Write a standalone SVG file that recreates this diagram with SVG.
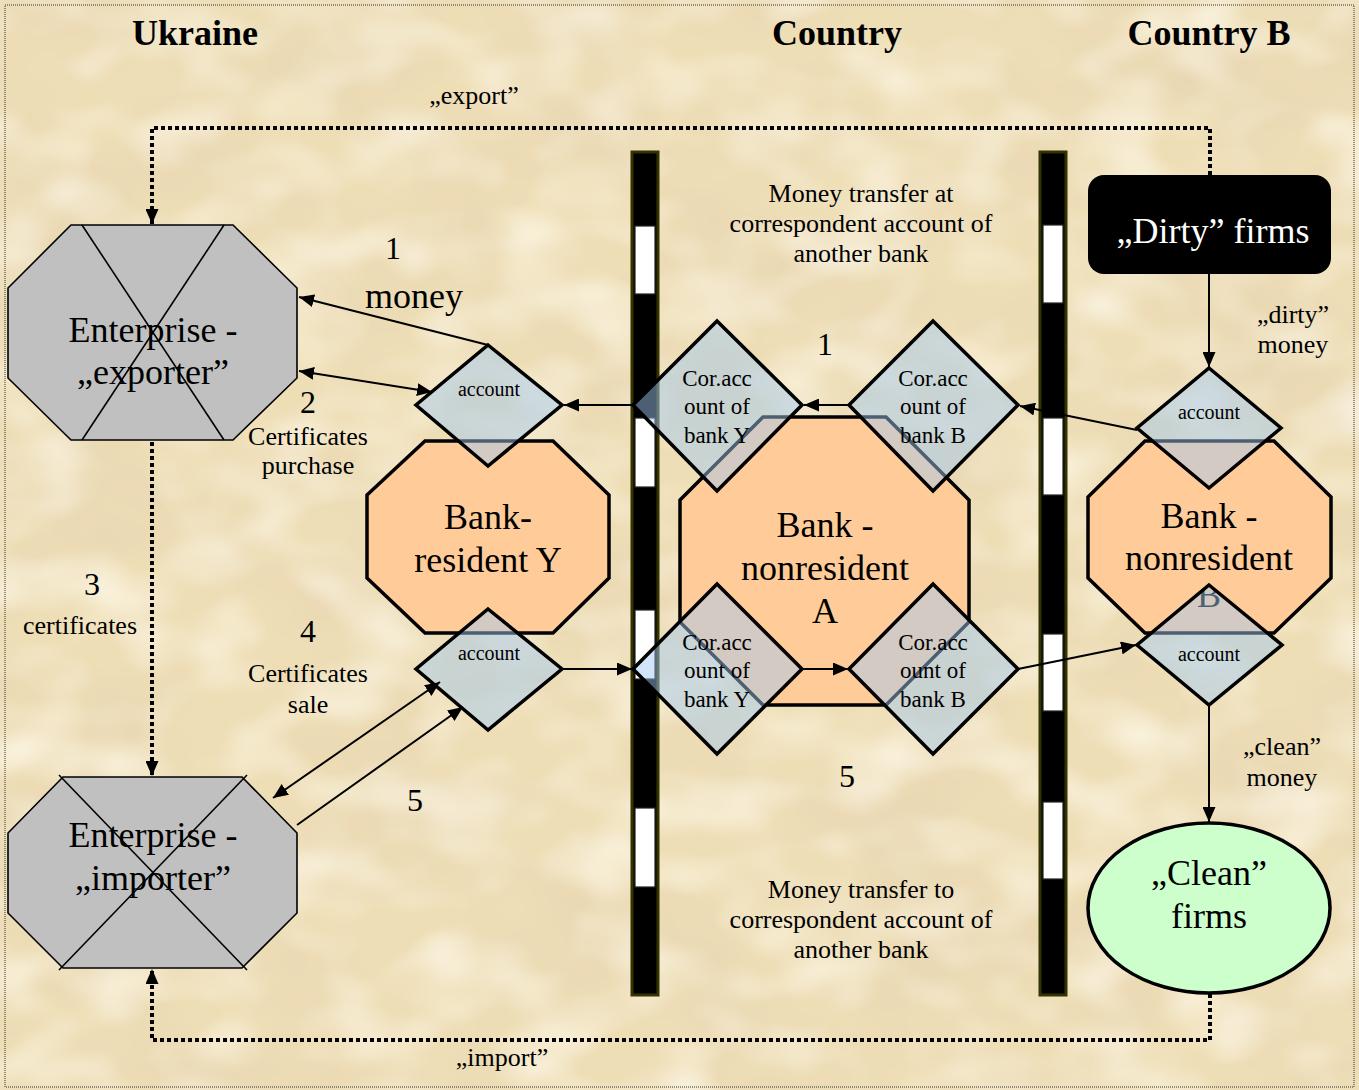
<svg xmlns="http://www.w3.org/2000/svg" width="1359" height="1090" viewBox="0 0 1359 1090">
  <defs>
    <style>
      text { font-family: "Liberation Serif", "Times New Roman", serif; fill: #000; text-anchor: middle; }
      .title { font-size: 36px; font-weight: bold; }
      .big { font-size: 36px; }
      .mid { font-size: 26px; }
      .num { font-size: 32px; }
      .cor { font-size: 23px; }
      .acc { font-size: 20px; }
      .ent { fill: #c0c0c0; stroke: #000; stroke-width: 1.6; }
      .cross { stroke: #000; stroke-width: 1.6; fill: none; }
      .bank { fill: #ffcc99; stroke: #000; stroke-width: 3.5; }
      .dia { fill: rgba(160,200,240,0.48); stroke: #000; stroke-width: 3.5; stroke-linejoin: miter; }
      .flow { stroke: #000; stroke-width: 2; fill: none; }
      .dots { stroke: #000; stroke-width: 4; fill: none; stroke-dasharray: 4 3; }
      .bar { fill: #000; stroke: #333300; stroke-width: 3; }
      .gap { fill: #fff; stroke: #222; stroke-width: 1.2; }
    </style>
    <marker id="arrow" markerUnits="userSpaceOnUse" markerWidth="16" markerHeight="13" refX="15" refY="6.5" orient="auto-start-reverse">
      <path d="M0,0 L15,6.5 L0,13 z" fill="#000"/>
    </marker>
    <!-- mottled parchment: soft dark blotches and pale patches -->
    <filter id="parchment" filterUnits="userSpaceOnUse" x="0" y="0" width="1359" height="1090">
      <feTurbulence type="fractalNoise" baseFrequency="0.006 0.009" numOctaves="3" seed="7" result="n"/>
      <feColorMatrix in="n" type="matrix" values="0 0 0 0 0.80  0 0 0 0 0.67  0 0 0 0 0.45  1.7 0 0 0 -0.68"/>
    </filter>
    <filter id="flecks" filterUnits="userSpaceOnUse" x="0" y="0" width="1359" height="1090">
      <feTurbulence type="fractalNoise" baseFrequency="0.012 0.018" numOctaves="2" seed="21" result="n"/>
      <feColorMatrix in="n" type="matrix" values="0 0 0 0 0.99  0 0 0 0 0.95  0 0 0 0 0.84  0 1.5 0 0 -0.62"/>
    </filter>
    <clipPath id="clipB">
      <polygon points="1209,585 1282,645 1209,705 1137,645"/>
    </clipPath>
  </defs>

  <!-- parchment background -->
  <rect width="1359" height="1090" fill="#eedeb6"/>
  <rect width="1359" height="1090" filter="url(#parchment)"/>
  <rect width="1359" height="1090" filter="url(#flecks)"/>
  <rect x="5" y="5" width="1349" height="1082" fill="none" stroke="#333" stroke-width="1" stroke-dasharray="1 1"/>

  <!-- region titles -->
  <g id="titles">
    <text class="title" x="195" y="45">Ukraine</text>
    <text class="title" x="837" y="45">Country</text>
    <text class="title" x="1209" y="45">Country B</text>
  </g>

  <!-- state borders -->
  <g id="borders">
    <rect class="bar" x="632" y="152" width="26" height="843"/>
    <rect class="gap" x="635" y="226" width="20" height="68"/>
    <rect class="gap" x="635" y="418" width="20" height="69"/>
    <rect class="gap" x="635" y="610" width="20" height="69"/>
    <rect class="gap" x="635" y="808" width="20" height="79"/>
    <rect class="bar" x="1040" y="152" width="26" height="843"/>
    <rect class="gap" x="1043" y="225" width="20" height="78"/>
    <rect class="gap" x="1043" y="418" width="20" height="77"/>
    <rect class="gap" x="1043" y="634" width="20" height="77"/>
    <rect class="gap" x="1043" y="802" width="20" height="77"/>
  </g>

  <!-- goods and document routes (dotted) -->
  <g id="routes">
    <path class="dots" d="M1210,175 V128 H152 V224" marker-end="url(#arrow)"/>
    <path class="dots" d="M152,442 V776" marker-end="url(#arrow)"/>
    <path class="dots" d="M1210,994 V1040 H152 V969" marker-end="url(#arrow)"/>
  </g>

  <!-- Ukrainian enterprises -->
  <g id="exporter">
    <polygon class="ent" points="71,225 233,225 297,288 297,378 233,440 71,440 8,378 8,288"/>
    <line class="cross" x1="82" y1="225" x2="224" y2="440"/>
    <line class="cross" x1="224" y1="225" x2="82" y2="440"/>
    <text class="big" x="153" y="342">Enterprise -</text>
    <text class="big" x="153" y="384">„exporter”</text>
  </g>
  <g id="importer">
    <polygon class="ent" points="63,777 242,777 297,833 297,913 242,968 63,968 8,913 8,833"/>
    <line class="cross" x1="59" y1="775" x2="247" y2="970"/>
    <line class="cross" x1="247" y1="775" x2="59" y2="970"/>
    <text class="big" x="153" y="847">Enterprise -</text>
    <text class="big" x="153" y="890">„importer”</text>
  </g>

  <!-- resident bank Y -->
  <g id="bank-y">
    <polygon class="bank" points="425,441 553,441 609,495 609,578 553,633 425,633 367,578 367,495"/>
    <text class="big" x="488" y="529">Bank-</text>
    <text class="big" x="488" y="572">resident Y</text>
  </g>
  <g id="account-y-top">
    <polygon class="dia" points="488,345 562,405 488,466 416,405"/>
    <text class="acc" x="489" y="396">account</text>
  </g>
  <g id="account-y-bottom">
    <polygon class="dia" points="488,609 562,669 488,730 416,669"/>
    <text class="acc" x="489" y="660">account</text>
  </g>

  <!-- nonresident bank A -->
  <g id="bank-a">
    <polygon class="bank" points="763,417 886,417 969,500 969,622 886,705 763,705 680,622 680,500"/>
    <text class="big" x="825" y="537">Bank -</text>
    <text class="big" x="825" y="580">nonresident</text>
    <text class="big" x="825" y="623">A</text>
  </g>
  <g id="cor-y-top">
    <polygon class="dia" points="717,321 802,405 717,491 633,405"/>
    <text class="cor" x="717" y="386">Cor.acc</text>
    <text class="cor" x="717" y="414">ount of</text>
    <text class="cor" x="717" y="443">bank Y</text>
  </g>
  <g id="cor-b-top">
    <polygon class="dia" points="933,321 1018,405 933,491 849,405"/>
    <text class="cor" x="933" y="386">Cor.acc</text>
    <text class="cor" x="933" y="414">ount of</text>
    <text class="cor" x="933" y="443">bank B</text>
  </g>
  <g id="cor-y-bottom">
    <polygon class="dia" points="717,584 802,669 717,754 633,669"/>
    <text class="cor" x="717" y="650">Cor.acc</text>
    <text class="cor" x="717" y="678">ount of</text>
    <text class="cor" x="717" y="707">bank Y</text>
  </g>
  <g id="cor-b-bottom">
    <polygon class="dia" points="933,584 1018,669 933,754 849,669"/>
    <text class="cor" x="933" y="650">Cor.acc</text>
    <text class="cor" x="933" y="678">ount of</text>
    <text class="cor" x="933" y="707">bank B</text>
  </g>

  <!-- nonresident bank B -->
  <g id="bank-b">
    <polygon class="bank" points="1145,441 1274,441 1331,497 1331,578 1274,633 1145,633 1088,578 1088,497"/>
    <text class="big" x="1209" y="528">Bank -</text>
    <text class="big" x="1209" y="570">nonresident</text>
    <text class="big" x="1209" y="607" clip-path="url(#clipB)">B</text>
  </g>
  <g id="account-b-top">
    <polygon class="dia" points="1209,368 1281,428 1209,488 1137,428"/>
    <text class="acc" x="1209" y="419">account</text>
  </g>
  <g id="account-b-bottom">
    <polygon class="dia" points="1209,585 1282,645 1209,705 1137,645"/>
    <text class="acc" x="1209" y="661">account</text>
  </g>

  <!-- firms in country B -->
  <g id="dirty-firms">
    <rect x="1088" y="175" width="243" height="99" rx="16" fill="#000"/>
    <text class="big" x="1213" y="243" style="fill:#fff">„Dirty” firms</text>
  </g>
  <g id="clean-firms">
    <ellipse cx="1209" cy="908" rx="121" ry="85" fill="#ccffcc" stroke="#000" stroke-width="3.5"/>
    <text class="big" x="1209" y="885">„Clean”</text>
    <text class="big" x="1209" y="928">firms</text>
  </g>

  <!-- money flows -->
  <g id="connectors">
    <line class="flow" x1="488" y1="345" x2="299" y2="297" marker-end="url(#arrow)"/>
    <line class="flow" x1="299" y1="371" x2="432" y2="392" marker-start="url(#arrow)" marker-end="url(#arrow)"/>
    <line class="flow" x1="633" y1="405" x2="564" y2="405" marker-end="url(#arrow)"/>
    <line class="flow" x1="849" y1="405" x2="804" y2="405" marker-end="url(#arrow)"/>
    <line class="flow" x1="1137" y1="430" x2="1020" y2="406" marker-end="url(#arrow)"/>
    <line class="flow" x1="1209" y1="274" x2="1209" y2="367" marker-end="url(#arrow)"/>
    <line class="flow" x1="273" y1="798" x2="440" y2="682" marker-start="url(#arrow)" marker-end="url(#arrow)"/>
    <line class="flow" x1="297" y1="825" x2="463" y2="707" marker-end="url(#arrow)"/>
    <line class="flow" x1="562" y1="669" x2="632" y2="669" marker-end="url(#arrow)"/>
    <line class="flow" x1="802" y1="669" x2="848" y2="669" marker-end="url(#arrow)"/>
    <line class="flow" x1="1018" y1="669" x2="1136" y2="645" marker-end="url(#arrow)"/>
    <line class="flow" x1="1209" y1="705" x2="1209" y2="822" marker-end="url(#arrow)"/>
  </g>

  <!-- step labels and notes -->
  <g id="labels">
    <text class="mid" x="474" y="104">„export”</text>
    <text class="mid" x="502" y="1066">„import”</text>
    <text class="num" x="393" y="259">1</text>
    <text class="big" x="414" y="308">money</text>
    <text class="num" x="308" y="413">2</text>
    <text class="mid" x="308" y="445">Certificates</text>
    <text class="mid" x="308" y="474">purchase</text>
    <text class="num" x="92" y="595">3</text>
    <text class="mid" x="80" y="634">certificates</text>
    <text class="num" x="308" y="642">4</text>
    <text class="mid" x="308" y="682">Certificates</text>
    <text class="mid" x="308" y="713">sale</text>
    <text class="num" x="415" y="811">5</text>
    <text class="num" x="825" y="355">1</text>
    <text class="num" x="847" y="787">5</text>
    <text class="mid" x="861" y="202">Money transfer at</text>
    <text class="mid" x="861" y="232">correspondent account of</text>
    <text class="mid" x="861" y="262">another bank</text>
    <text class="mid" x="861" y="898">Money transfer to</text>
    <text class="mid" x="861" y="928">correspondent account of</text>
    <text class="mid" x="861" y="958">another bank</text>
    <text class="mid" x="1293" y="323">„dirty”</text>
    <text class="mid" x="1293" y="353">money</text>
    <text class="mid" x="1282" y="755">„clean”</text>
    <text class="mid" x="1282" y="786">money</text>
  </g>
</svg>
